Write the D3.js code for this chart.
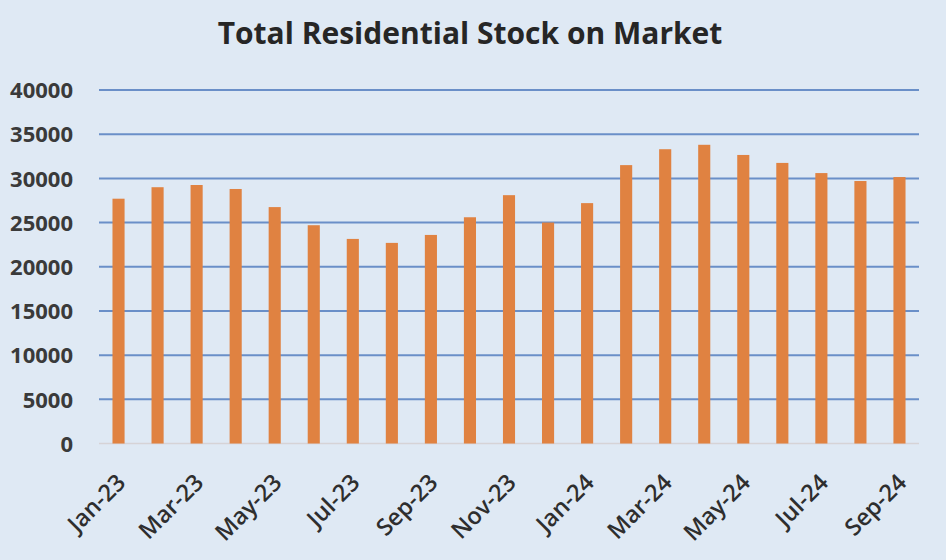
<!DOCTYPE html>
<html>
<head>
<meta charset="utf-8">
<script src="https://cdn.jsdelivr.net/npm/d3@7"></script>
<style>
  html, body { margin: 0; padding: 0; background: #dfe9f4; }
  svg { display: block; }
</style>
</head>
<body>
<svg id="chart" width="946" height="560"></svg>
<script>
const categories = ["Jan-23","Feb-23","Mar-23","Apr-23","May-23","Jun-23","Jul-23","Aug-23","Sep-23","Oct-23","Nov-23","Dec-23","Jan-24","Feb-24","Mar-24","Apr-24","May-24","Jun-24","Jul-24","Aug-24","Sep-24"];
const stockValues = [27700,29000,29250,28800,26750,24700,23150,22700,23600,25600,28100,25000,27200,31500,33300,33800,32650,31750,30600,29700,30150];
const yTicks = [0,5000,10000,15000,20000,25000,30000,35000,40000];
const chartTitle = "Total Residential Stock on Market";

const W = 946, H = 560;
const margin = {left: 99, right: 27, top: 90, bottom: 116.5};
const svg = d3.select("#chart");
svg.append("rect").attr("width", W).attr("height", H).attr("fill", "#dfe9f4");

const x = d3.scaleBand().domain(categories).range([margin.left, W - margin.right]).paddingInner(0.69).paddingOuter(0.345);
const y = d3.scaleLinear().domain([0, 40000]).range([H - margin.bottom, margin.top]);

const font = "'Open Sans', 'Noto Sans', sans-serif";

// gridlines
svg.append("g").selectAll("line").data(yTicks.filter(d => d > 0)).join("line")
  .attr("x1", margin.left).attr("x2", W - margin.right)
  .attr("y1", d => y(d)).attr("y2", d => y(d))
  .attr("stroke", "#6a8fc8").attr("stroke-width", 2);

// baseline
svg.append("line").attr("x1", margin.left).attr("x2", W - margin.right)
  .attr("y1", y(0)).attr("y2", y(0)).attr("stroke", "#d6d3d6").attr("stroke-width", 1.5);

// bars
svg.append("g").selectAll("rect").data(stockValues).join("rect")
  .attr("x", (d, i) => x(categories[i]))
  .attr("width", x.bandwidth())
  .attr("y", d => y(d))
  .attr("height", d => y(0) - y(d))
  .attr("fill", "#e08241");

// y axis labels
const yAxis = d3.axisLeft(y).tickValues(yTicks).tickSize(0).tickPadding(0).tickFormat(d3.format("d"));
const gy = svg.append("g").attr("transform", `translate(${73},0)`).call(yAxis);
gy.select(".domain").remove();
gy.selectAll("text").attr("font-family", font).attr("font-size", 22).attr("font-weight", 700)
  .attr("fill", "#3a3a3a").attr("dy", "0.35em");

// x axis labels
const labelCats = categories.filter((d, i) => i % 2 === 0);
const xAxis = d3.axisBottom(x).tickValues(labelCats).tickSize(0).tickPadding(0);
const gx = svg.append("g").attr("transform", `translate(0,${y(0)})`).call(xAxis);
gx.select(".domain").remove();
gx.selectAll("text")
  .attr("font-family", font).attr("font-size", 23.5).attr("font-weight", 600).attr("fill", "#2e2e2e")
  .attr("text-anchor", "end")
  .attr("dy", null).attr("y", null)
  .attr("transform", "translate(4,36) rotate(-45)")
  .attr("dominant-baseline", "middle");

// title
svg.append("text").attr("x", 470).attr("y", 36).attr("text-anchor", "middle")
  .attr("dominant-baseline", "middle")
  .attr("font-family", font).attr("font-size", 30).attr("font-weight", 700).attr("fill", "#262626")
  .text(chartTitle);
</script>
</body>
</html>
